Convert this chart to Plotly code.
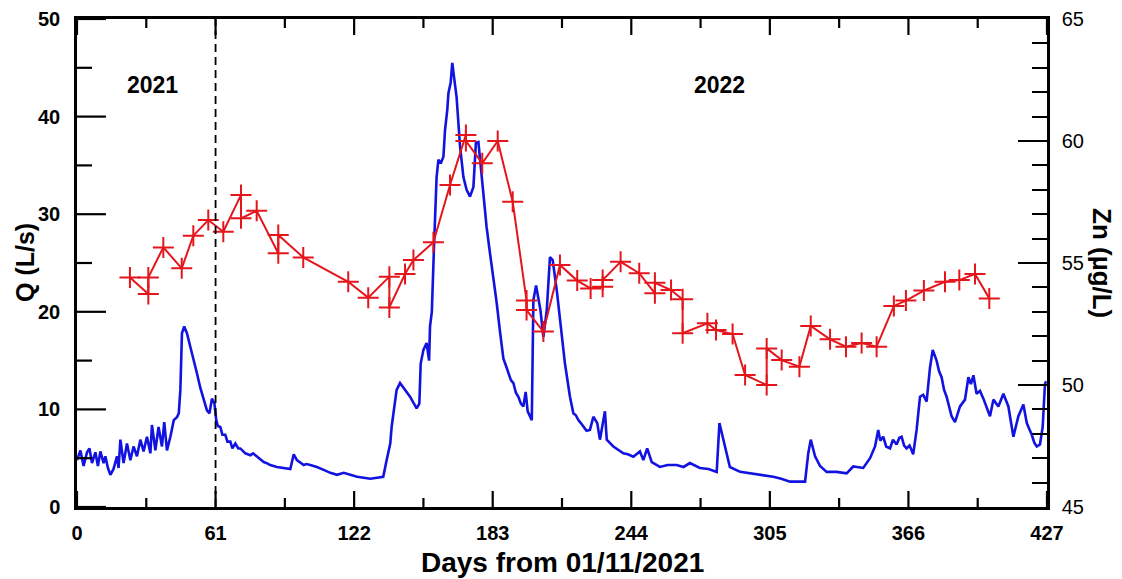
import plotly.graph_objects as go

# ---- Discharge Q (L/s), blue trace ----
q_days = [0, 1.5, 2.9, 4.4, 5.5, 6.6, 8.1, 9.2, 10.3, 11.7, 12.5, 13.6, 14.7, 16.1, 17.6, 18.3, 19.1, 20.5,
          22.0, 23.5, 24.9, 26.4, 27.9, 29.3, 30.8, 32.3, 33.0, 34.5, 35.9, 37.4, 38.4, 39.6, 41.1, 42.6,
          44.0, 44.8, 45.5, 46.2, 47.2, 48.4, 49.9, 51.4, 52.8, 54.3, 55.8, 57.2, 58.3, 59.4, 60.5, 61.3,
          62.0, 63.1, 64.0, 65.3, 66.2, 67.5, 68.4, 69.7, 71.0, 71.9, 74.1, 76.3, 77.5, 79.2, 82.2, 83.5,
          85.1, 88.0, 91.0, 93.9, 95.4, 96.8, 99.8, 101.0, 102.7, 105.6, 108.6, 111.5, 114.5, 117.4, 120.3,
          123.3, 126.2, 129.1, 132.1, 134.8, 136.3, 137.9,
          138.5, 139.4, 140.7, 142.2, 144.4, 146.6, 149.5, 150.7, 151.3, 152.5, 153.9, 155.0, 155.4, 156.2,
          157.2, 158.3, 159.1, 160.1, 161.3, 162.0, 163.0, 163.5, 164.5, 165.2, 166.0, 167.1, 168.6, 170.1,
          171.5, 173.0, 174.5, 175.6, 176.7, 177.4, 178.9, 180.3, 181.8, 183.3, 184.7, 186.2, 187.7, 188.8,
          189.9, 191.0, 192.1, 193.2, 194.3, 195.4, 196.5, 197.5, 198.4, 200.2, 200.9, 202.1, 203.0, 204.0,
          205.3, 206.8, 208.2, 209.4, 211.2, 212.6, 214.8, 217.0, 218.5, 219.6, 220.7, 221.8, 222.9, 224.3,
          225.8, 227.3, 229.0, 230.2, 232.4, 233.2, 236.1, 238.0, 240.5, 242.5, 244.9, 247.8, 249.3, 251.0,
          253.0, 256.6, 260.0, 264.0, 267.0, 269.8, 274.2, 278.0, 281.6, 282.8, 284.5, 287.4,
          291.9, 295.0, 299.2, 303.0, 306.5, 310.0, 313.9, 317.0, 320.5, 321.9, 323.0, 324.9, 327.1, 330.0,
          334.4, 338.8, 341.7, 346.1, 349.1, 351.3, 352.7, 353.6, 354.9, 356.2, 357.9, 359.2, 360.8, 362.0,
          363.0, 364.1, 365.2, 366.5, 368.1, 369.6, 371.1, 372.5, 374.0, 375.5, 376.7, 378.4, 379.5, 380.6,
          381.7, 382.8, 383.9, 385.0, 386.5, 387.6, 388.7, 390.9, 392.4, 393.5, 394.6, 396.0, 397.5, 399.0,
          400.5, 401.9, 403.4, 405.6, 407.8, 410.0, 412.2, 414.4, 416.6, 418.1, 419.2, 420.3, 421.4, 422.5,
          423.9, 425.1, 426.1, 426.6]
q_values = [4.8, 5.8, 4.2, 5.6, 6.0, 4.5, 5.6, 4.2, 5.7, 4.5, 5.2, 4.0, 3.3, 3.9, 5.2, 4.0, 6.9, 4.5,
            6.5, 4.8, 6.2, 5.2, 6.9, 5.7, 7.2, 5.5, 8.4, 5.8, 8.2, 6.2, 8.7, 5.8, 7.2, 8.9,
            9.2, 9.6, 12.0, 17.8, 18.5, 17.8, 16.4, 15.1, 13.7, 12.2, 11.0, 9.9, 9.6, 11.1, 10.6, 8.9,
            8.3, 8.2, 7.4, 7.4, 6.7, 6.7, 6.0, 6.5, 6.0, 6.0, 5.5, 5.3, 5.5, 5.2, 4.6, 4.5,
            4.3, 4.1, 4.0, 3.9, 5.4, 4.8, 4.3, 4.4, 4.3, 4.1, 3.8, 3.5, 3.3, 3.5, 3.3,
            3.1, 3.0, 2.9, 3.0, 3.1, 4.8, 6.5,
            8.2, 9.9, 12.0, 12.7, 12.0, 11.3, 10.1, 10.6, 14.7, 16.1, 16.8, 15.0, 18.5, 20.0,
            27.0, 33.8, 35.6, 35.2, 35.9, 38.6, 40.7, 42.4, 43.5, 45.5, 44.0, 42.0, 37.0, 33.8,
            32.5, 31.8, 32.8, 37.3, 37.4, 35.6, 32.1, 28.7, 26.0, 23.6, 21.0, 18.0, 15.2, 14.5,
            13.7, 13.0, 12.7, 11.7, 11.3, 10.6, 10.3, 11.8, 9.8, 8.9, 21.2, 22.7, 21.5, 20.2,
            17.4, 20.2, 25.6, 25.3, 22.2, 19.2, 14.7, 11.3, 9.6, 9.4, 8.9, 8.6, 8.2, 7.8,
            7.9, 9.25, 8.6, 6.9, 9.8, 6.9, 6.2, 5.9, 5.5, 5.4, 5.15, 5.7, 4.8, 6.0,
            4.6, 4.1, 4.3, 4.3, 4.1, 4.5, 4.0, 3.9, 3.6, 8.6, 6.9, 4.1,
            3.6, 3.5, 3.3, 3.2, 3.1, 2.9, 2.6, 2.6, 2.6, 5.5, 6.9, 5.2, 4.2, 3.6,
            3.6, 3.45, 4.15, 4.0, 5.0, 6.2, 7.9, 6.8, 7.2, 6.2, 6.0, 6.9, 6.4, 7.1,
            7.2, 6.3, 6.0, 6.3, 5.4, 7.9, 11.3, 11.5, 10.8, 14.3, 16.1, 15.0, 13.9, 13.3,
            12.0, 11.3, 10.2, 9.3, 8.7, 9.6, 10.3, 11.0, 13.3, 12.6, 13.5, 11.6, 11.9, 11.1,
            10.1, 9.3, 11.0, 10.3, 11.6, 10.3, 7.2, 9.3, 10.5, 8.6, 8.0, 7.4, 6.6, 6.2,
            6.4, 8.2, 12.6, 12.9]

# ---- Zinc concentration (ug/L), red trace ----
zn_days = [23.3, 31.4, 31.4, 38.0, 46.1, 51.2, 57.8, 64.4, 72.2, 72.2, 79.1, 88.6, 88.6, 99.6, 119.4,
           128.2, 137.5, 137.5, 144.4, 148.1, 156.9, 164.2, 171.2, 171.2, 178.4, 185.2, 191.8, 197.9,
           197.9, 205.3, 212.6, 220.2, 226.1, 231.4, 231.4, 239.3, 247.5, 254.4, 254.4, 261.5, 266.6,
           266.6, 277.5, 281.3, 288.6, 294.1, 303.6, 303.6, 310.2, 318.0, 323.0, 331.5, 338.5, 345.4,
           352.0, 359.6, 364.9, 372.8, 382.1, 388.4, 395.3, 401.6]
zn_values = [54.41, 53.73, 54.41, 55.64, 54.78, 56.12, 56.76, 56.28, 57.79, 56.83, 57.14, 55.40, 56.15,
             55.23, 54.23, 53.58, 54.44, 53.18, 54.55, 55.12, 55.85, 58.20, 60.25, 60.0, 59.09, 60.0,
             57.51, 53.46, 53.07, 52.19, 54.92, 54.28, 53.96, 54.03, 54.30, 55.05, 54.58, 53.76, 54.19,
             53.89, 53.51, 52.12, 52.53, 52.25, 52.09, 50.41, 50.0, 51.50, 51.02, 50.75, 52.42, 51.87,
             51.57, 51.72, 51.57, 53.24, 53.46, 53.87, 54.23, 54.30, 54.55, 53.55]

# ---- axis tick values ----
x_ticks = [0, 61, 122, 183, 244, 305, 366, 427]
x_minor_ticks = [30.5, 91.5, 152.5, 213.5, 274.5, 335.5, 396.5]
q_ticks = [0, 10, 20, 30, 40, 50]
q_minor_ticks = [5, 15, 25, 35, 45]

split_day = 61
year_labels = ["2021", "2022"]
year_label_days = [33.2, 283.0]
year_label_q = 43.2

FONT = "Liberation Sans, Arial, sans-serif"
BLUE = "rgb(18,18,225)"
RED = "rgb(228,22,28)"
TICK_W = 2.2

fig = go.Figure()
fig.add_trace(go.Scatter(x=q_days, y=q_values, mode="lines",
                         line=dict(color=BLUE, width=2.6), showlegend=False))
fig.add_trace(go.Scatter(x=zn_days, y=zn_values, mode="lines+markers", yaxis="y2",
                         line=dict(color=RED, width=2),
                         marker=dict(symbol="cross-thin", size=15, line=dict(color=RED, width=2)),
                         showlegend=False))

fig.add_shape(type="line", x0=split_day, x1=split_day, y0=0, y1=50, xref="x", yref="y",
              line=dict(color="black", width=1.8, dash="8px,5px"))

# inward tick marks of the left (Q) axis and of the bottom / top (days) axes,
# placed at the axis values, with pixel lengths
for vals, length in ((q_ticks, 29), (q_minor_ticks, 15)):
    for v in vals:
        fig.add_shape(type="line", xref="paper", yref="y", xsizemode="pixel", xanchor=0,
                      x0=0, x1=length, y0=v, y1=v, line=dict(color="black", width=TICK_W))
for vals, length in ((x_ticks, 16), (x_minor_ticks, 9)):
    for v in vals:
        fig.add_shape(type="line", xref="x", yref="paper", ysizemode="pixel", yanchor=0,
                      x0=v, x1=v, y0=0, y1=length, line=dict(color="black", width=TICK_W))
        fig.add_shape(type="line", xref="x", yref="paper", ysizemode="pixel", yanchor=1,
                      x0=v, x1=v, y0=0, y1=-length, line=dict(color="black", width=TICK_W))

for lbl, d in zip(year_labels, year_label_days):
    fig.add_annotation(x=d, y=year_label_q, xref="x", yref="y", text="<b>%s</b>" % lbl,
                       showarrow=False, font=dict(family=FONT, size=23, color="black"))

# axis titles
fig.add_annotation(x=0.0, y=0.5, xref="paper", yref="paper", xanchor="center", yanchor="middle",
                   xshift=-52, text="<b>Q (L/s)</b>", textangle=-90, showarrow=False,
                   font=dict(family=FONT, size=25, color="black"))
fig.add_annotation(x=0.5, y=0.0, xref="paper", yref="paper", xanchor="center", yanchor="middle",
                   yshift=-55, text="<b>Days from 01/11/2021</b>", showarrow=False,
                   font=dict(family=FONT, size=28, color="black"))
fig.add_annotation(x=1.0, y=0.5, xref="paper", yref="paper", xanchor="center", yanchor="middle",
                   xshift=55, text="<b>Zn (µg/L)</b>", textangle=90, showarrow=False,
                   font=dict(family=FONT, size=26, color="black"))

# the page body adds an 8 px offset; the figure is sized so the plot area lands where the reference has it
fig.update_layout(
    width=1114, height=571,
    margin=dict(l=69, r=75, t=11, b=72, autoexpand=False),
    plot_bgcolor="white", paper_bgcolor="white",
    font=dict(family=FONT, color="black"),
    xaxis=dict(range=[0, 427], tickvals=x_ticks, ticks="", showline=True, linecolor="black",
               linewidth=2.5, mirror=True, showgrid=False, zeroline=False, automargin=False,
               ticklabelstandoff=6,
               tickfont=dict(family=FONT, size=20, color="black", weight="bold")),
    yaxis=dict(range=[0, 50], tickvals=q_ticks, ticks="", showline=True, linecolor="black",
               linewidth=2.5, showgrid=False, zeroline=False, automargin=False, ticklabelstandoff=10,
               tickfont=dict(family=FONT, size=20, color="black", weight="bold")),
    yaxis2=dict(range=[45, 65], dtick=5, overlaying="y", side="right", ticks="inside", ticklen=29,
                tickwidth=TICK_W, tickcolor="black", showline=True, linecolor="black", linewidth=2.5,
                showgrid=False, zeroline=False, automargin=False, ticklabelstandoff=8,
                minor=dict(dtick=1, ticks="inside", ticklen=15, tickwidth=TICK_W, tickcolor="black"),
                tickfont=dict(family=FONT, size=20, color="black")),
)

fig.write_html("out.html")
